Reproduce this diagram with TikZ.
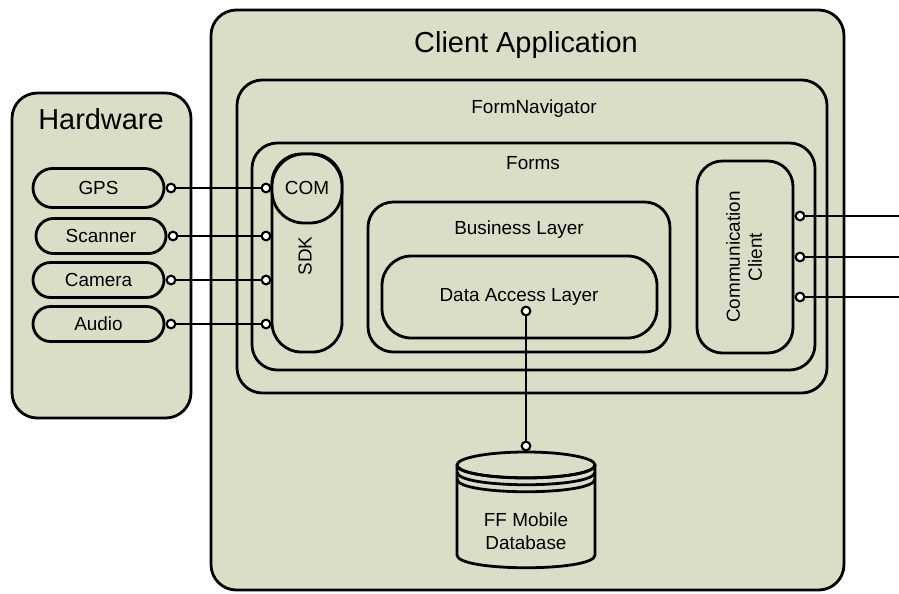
\documentclass[tikz,border=0pt]{standalone}
\usepackage{fontspec}
\setmainfont{Liberation Sans}
\usetikzlibrary{fit,shapes.misc}
\definecolor{panel}{RGB}{217,222,198}
\begin{document}
\begin{tikzpicture}[x=0.75pt,y=-0.75pt,
  box/.style={draw, line width=2.1pt, fill=panel, inner sep=0pt, rounded corners=19pt},
  device/.style={draw, line width=2.1pt, fill=panel, rounded rectangle, inner sep=0pt,
    font=\fontsize{14.2}{16}\selectfont},
  bigtext/.style={font=\fontsize{21.7}{25}\selectfont},
  txt/.style={font=\fontsize{14.2}{16}\selectfont, align=center},
  port/.style={circle, draw, line width=1.6pt, fill=white, inner sep=0pt, minimum size=6.5pt},
  wire/.style={line width=2.1pt}]
\useasboundingbox (0,0) rectangle (899,593);

% containers of the client application
\node[box, fit={(211,10) (844,590)}] (app) {};
\node[bigtext] (apptitle) at (526,45) {Client Application};
\node[box, fit={(237,80) (827,393)}] (nav) {};
\node[txt] (navtitle) at (534,109) {FormNavigator};
\node[box, fit={(252,143) (815,370)}] (forms) {};
\node[txt] (formstitle) at (533,163) {Forms};

% SDK with its COM part
\node[box, rounded corners=22pt, fit={(272,154) (342,352)}] (sdk) {};
\node[txt, rotate=90] (sdktitle) at (305,256) {SDK};
\node[box, rounded corners=24pt, fit={(272,154) (342,223)}] (com) {};
\node[txt] (comtitle) at (307,188) {COM};

% layers
\node[box, fit={(368,202) (670,352)}] (biz) {};
\node[txt] (biztitle) at (519,230) {Business Layer};
\node[box, rounded corners=22pt, fit={(382,256) (657,338)}] (dal) {};
\node[txt] (daltitle) at (519,297) {Data Access Layer};

% communication client
\node[box, fit={(697,161) (793,353)}] (comm) {};
\node[txt, rotate=90, font=\fontsize{14.2}{16.5}\selectfont] (commtitle) at (744,257) {Communication\\Client};

% hardware block
\node[box, fit={(12,93) (191,418)}] (hw) {};
\node[bigtext] (hwtitle) at (101,119) {Hardware};
\node[device, minimum width=131*0.75pt, minimum height=39*0.75pt] (gps) at (98.5,188) {GPS};
\node[device, minimum width=130*0.75pt, minimum height=35*0.75pt] (scanner) at (101,236) {Scanner};
\node[device, minimum width=131*0.75pt, minimum height=35*0.75pt] (camera) at (98.5,280) {Camera};
\node[device, minimum width=131*0.75pt, minimum height=35*0.75pt] (audio) at (98.5,324) {Audio};

% database
\fill[panel] (457,465) -- (457,555) .. controls (457,572) and (595,572) .. (595,555)
  -- (595,465) .. controls (595,448) and (457,448) .. cycle;
\draw[line width=2.1pt] (457,465) -- (457,555) .. controls (457,572) and (595,572) .. (595,555) -- (595,465);
\draw[line width=2.1pt] (526,465) ellipse [x radius=51.75pt, y radius=9.75pt];
\draw[line width=2.1pt] (457,465) .. controls (457,482) and (595,482) .. (595,465);
\draw[line width=2.1pt] (457,472) .. controls (457,489) and (595,489) .. (595,472);
\draw[line width=2.1pt] (457,479) .. controls (457,496) and (595,496) .. (595,479);
\node[txt, font=\fontsize{14.2}{17.2}\selectfont] (dbtitle) at (526,531) {FF Mobile\\Database};

% ports
\node[port] (pgps) at (171,188) {};
\node[port] (pscan) at (173,236) {};
\node[port] (pcam) at (171,280) {};
\node[port] (paud) at (171,324) {};
\node[port] (sgps) at (266,188) {};
\node[port] (sscan) at (266,236) {};
\node[port] (scam) at (266,280) {};
\node[port] (saud) at (266,324) {};
\node[port] (pdal) at (526,311) {};
\node[port] (pdb) at (526,446) {};
\node[port] (c1) at (800,216) {};
\node[port] (c2) at (800,257) {};
\node[port] (c3) at (800,297) {};
\coordinate (e1) at (899,216);
\coordinate (e2) at (899,257);
\coordinate (e3) at (899,297);

% wires
\draw[wire] (pgps) -- (sgps);
\draw[wire] (pscan) -- (sscan);
\draw[wire] (pcam) -- (scam);
\draw[wire] (paud) -- (saud);
\draw[wire] (pdal) -- (pdb);
\draw[wire] (c1) -- (e1);
\draw[wire] (c2) -- (e2);
\draw[wire] (c3) -- (e3);
\end{tikzpicture}
\end{document}
